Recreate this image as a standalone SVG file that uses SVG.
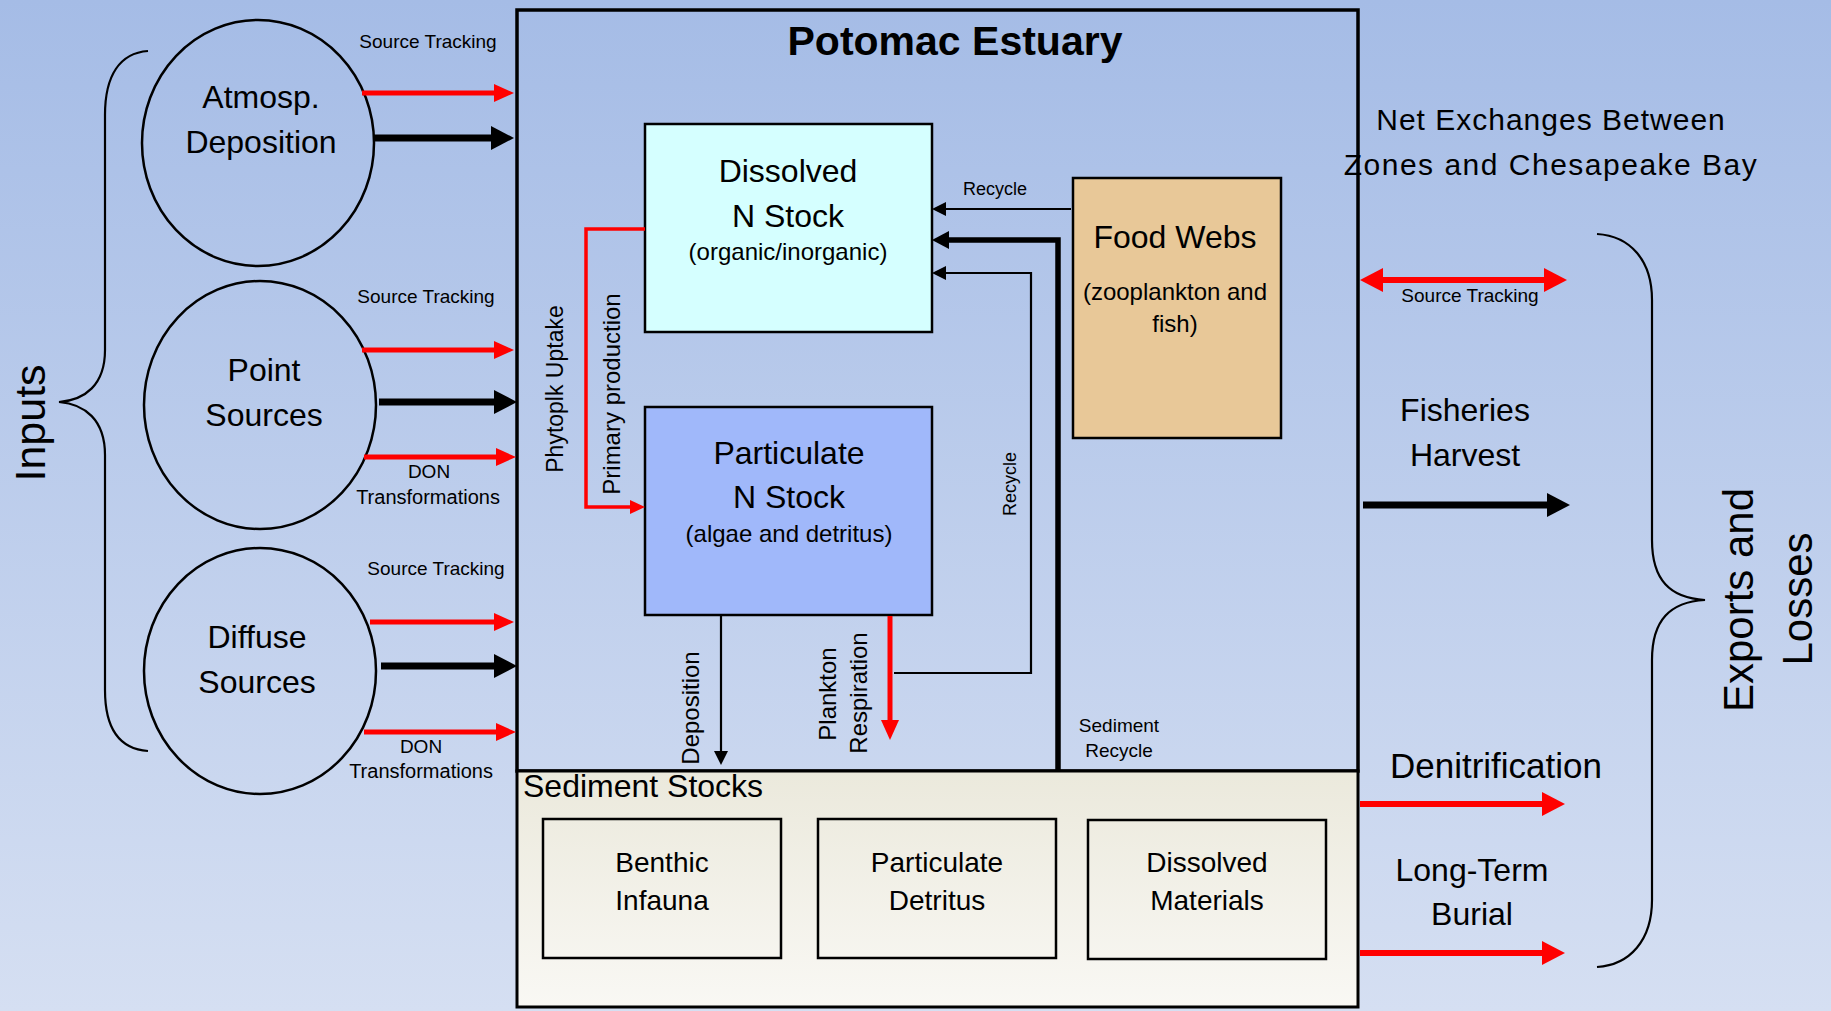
<svg xmlns="http://www.w3.org/2000/svg" width="1831" height="1011" viewBox="0 0 1831 1011">
<defs>
<linearGradient id="bg" x1="0" y1="0" x2="0" y2="1">
<stop offset="0" stop-color="#a5bce6"/>
<stop offset="1" stop-color="#d5dff2"/>
</linearGradient>
<linearGradient id="sed" x1="0" y1="0" x2="0" y2="1">
<stop offset="0" stop-color="#ebe9dc"/>
<stop offset="1" stop-color="#f9f8f4"/>
</linearGradient>
<marker id="hR" viewBox="0 0 20 18" markerWidth="20" markerHeight="18" refX="1" refY="9" orient="auto" markerUnits="userSpaceOnUse"><path d="M0,0 L20,9 L0,18 z" fill="#ff0000"/></marker>
<marker id="hR2" viewBox="0 0 23 24" markerWidth="23" markerHeight="24" refX="1" refY="12" orient="auto-start-reverse" markerUnits="userSpaceOnUse"><path d="M0,0 L23,12 L0,24 z" fill="#ff0000"/></marker>
<marker id="hRs" viewBox="0 0 15 14" markerWidth="15" markerHeight="14" refX="1" refY="7" orient="auto" markerUnits="userSpaceOnUse"><path d="M0,0 L15,7 L0,14 z" fill="#ff0000"/></marker>
<marker id="hK" viewBox="0 0 23 24" markerWidth="23" markerHeight="24" refX="1" refY="12" orient="auto" markerUnits="userSpaceOnUse"><path d="M0,0 L23,12 L0,24 z" fill="#000"/></marker>
<marker id="hKs" viewBox="0 0 14 14" markerWidth="14" markerHeight="14" refX="1" refY="7" orient="auto" markerUnits="userSpaceOnUse"><path d="M0,0 L14,7 L0,14 z" fill="#000"/></marker>
<marker id="hKt" viewBox="0 0 17 18" markerWidth="17" markerHeight="18" refX="1" refY="9" orient="auto" markerUnits="userSpaceOnUse"><path d="M0,0 L17,9 L0,18 z" fill="#000"/></marker>
</defs>
<style>
text{font-family:"Liberation Sans",Arial,sans-serif;fill:#000}
.big{font-size:32px;text-anchor:middle}
.mid{font-size:24px;text-anchor:middle}
.sm{font-size:19px;text-anchor:middle}
.xs{font-size:18px;text-anchor:middle}
.node{stroke:#000;stroke-width:2.5}
.red{stroke:#ff0000;fill:none}
.blk{stroke:#000;fill:none}
.brace{stroke:#000;stroke-width:2.2;fill:none}
</style>
<rect x="0" y="0" width="1831" height="1011" fill="url(#bg)"/>

<g id="inputs-brace">
<path class="brace" d="M148,51 C120,53 105,75 105,115 L105,350 C105,385 85,400 59,402 C85,404 105,420 105,455 L105,690 C105,730 120,749 148,751"/>
<text transform="translate(45,423) rotate(-90)" style="font-size:43px;text-anchor:middle">Inputs</text>
</g>

<g id="estuary">
<rect x="517" y="10" width="841" height="761" fill="none" stroke="#000" stroke-width="3.5"/>
<text x="955" y="55" style="font-size:41px;font-weight:bold;text-anchor:middle">Potomac Estuary</text>
</g>

<g id="atmosp">
<ellipse cx="258" cy="143" rx="116" ry="123" fill="none" class="node"/>
<text class="big" x="261" y="108">Atmosp.</text>
<text class="big" x="261" y="153">Deposition</text>
</g>
<g id="point">
<ellipse cx="260" cy="405" rx="116" ry="124" fill="none" class="node"/>
<text class="big" x="264" y="381">Point</text>
<text class="big" x="264" y="426">Sources</text>
</g>
<g id="diffuse">
<ellipse cx="260" cy="671" rx="116" ry="123" fill="none" class="node"/>
<text class="big" x="257" y="648">Diffuse</text>
<text class="big" x="257" y="693">Sources</text>
</g>

<g id="dissolved">
<rect x="645" y="124" width="287" height="208" fill="#d5ffff" class="node"/>
<text class="big" x="788" y="182">Dissolved</text>
<text class="big" x="788" y="227">N Stock</text>
<text class="mid" x="788" y="260">(organic/inorganic)</text>
</g>
<g id="particulate">
<rect x="645" y="407" width="287" height="208" fill="#a0b8fa" class="node"/>
<text class="big" x="789" y="464">Particulate</text>
<text class="big" x="789" y="508">N Stock</text>
<text class="mid" x="789" y="542">(algae and detritus)</text>
</g>
<g id="foodwebs">
<rect x="1073" y="178" width="208" height="260" fill="#e8c898" class="node"/>
<text class="big" x="1175" y="248">Food Webs</text>
<text class="mid" x="1175" y="300">(zooplankton and</text>
<text class="mid" x="1175" y="332">fish)</text>
</g>

<g id="sediment">
<rect x="517" y="771" width="841" height="236" fill="url(#sed)" stroke="#000" stroke-width="3"/>
<text x="523" y="797" style="font-size:32px">Sediment Stocks</text>
</g>
<g id="benthic">
<rect x="543" y="819" width="238" height="139" fill="none" class="node"/>
<text class="big" x="662" y="872" style="font-size:28px">Benthic</text>
<text class="big" x="662" y="910" style="font-size:28px">Infauna</text>
</g>
<g id="detritus">
<rect x="818" y="819" width="238" height="139" fill="none" class="node"/>
<text class="big" x="937" y="872" style="font-size:28px">Particulate</text>
<text class="big" x="937" y="910" style="font-size:28px">Detritus</text>
</g>
<g id="materials">
<rect x="1088" y="820" width="238" height="139" fill="none" class="node"/>
<text class="big" x="1207" y="872" style="font-size:28px">Dissolved</text>
<text class="big" x="1207" y="910" style="font-size:28px">Materials</text>
</g>

<g id="exports-brace">
<path class="brace" d="M1597,234 C1630,236 1652,260 1652,300 L1652,540 C1652,580 1670,598 1705,600 C1670,602 1652,620 1652,660 L1652,900 C1652,940 1630,965 1597,967"/>
<text transform="translate(1753,600) rotate(-90)" style="font-size:42px;text-anchor:middle">Exports and</text>
<text transform="translate(1812,599) rotate(-90)" style="font-size:42px;text-anchor:middle">Losses</text>
</g>

<g id="connectors">
<line class="red" x1="362" y1="93" x2="495" y2="93" stroke-width="5" marker-end="url(#hR)"/>
<line class="blk" x1="373" y1="138" x2="492" y2="138" stroke-width="7" marker-end="url(#hK)"/>
<line class="red" x1="362" y1="350" x2="495" y2="350" stroke-width="5" marker-end="url(#hR)"/>
<line class="blk" x1="379" y1="402" x2="495" y2="402" stroke-width="7" marker-end="url(#hK)"/>
<line class="red" x1="364" y1="457" x2="497" y2="457" stroke-width="5" marker-end="url(#hR)"/>
<line class="red" x1="370" y1="622" x2="495" y2="622" stroke-width="5" marker-end="url(#hR)"/>
<line class="blk" x1="381" y1="666" x2="495" y2="666" stroke-width="7" marker-end="url(#hK)"/>
<line class="red" x1="364" y1="732" x2="497" y2="732" stroke-width="5" marker-end="url(#hR)"/>

<path class="red" d="M645,229 L586,229 L586,507 L631,507" stroke-width="3.5" marker-end="url(#hRs)"/>
<path class="blk" d="M1071,209 L945,209" stroke-width="2.2" marker-end="url(#hKs)"/>
<path class="blk" d="M1058,771 L1058,240 L948,240" stroke-width="5.5" marker-end="url(#hKt)"/>
<path class="blk" d="M894,673 L1031,673 L1031,273 L945,273" stroke-width="2.2" marker-end="url(#hKs)"/>
<path class="blk" d="M721,616 L721,752" stroke-width="2.2" marker-end="url(#hKs)"/>
<path class="red" d="M890,616 L890,721" stroke-width="5" marker-end="url(#hR)"/>

<line class="red" x1="1382" y1="280" x2="1545" y2="280" stroke-width="6" marker-start="url(#hR2)" marker-end="url(#hR2)"/>
<line class="blk" x1="1363" y1="505" x2="1548" y2="505" stroke-width="7" marker-end="url(#hK)"/>
<line class="red" x1="1360" y1="804" x2="1543" y2="804" stroke-width="6" marker-end="url(#hR2)"/>
<line class="red" x1="1360" y1="953" x2="1543" y2="953" stroke-width="6" marker-end="url(#hR2)"/>

<text class="sm" x="428" y="48">Source Tracking</text>
<text class="sm" x="426" y="303">Source Tracking</text>
<text class="sm" x="429" y="478">DON</text>
<text class="sm" x="428" y="504" style="font-size:20px">Transformations</text>
<text class="sm" x="436" y="575">Source Tracking</text>
<text class="sm" x="421" y="753">DON</text>
<text class="sm" x="421" y="778" style="font-size:20px">Transformations</text>

<text transform="translate(563,389) rotate(-90)" style="font-size:23px;text-anchor:middle">Phytoplk Uptake</text>
<text transform="translate(620,394) rotate(-90)" style="font-size:24px;text-anchor:middle">Primary production</text>
<text class="xs" x="995" y="195">Recycle</text>
<text transform="translate(1016,484) rotate(-90)" style="font-size:18px;text-anchor:middle">Recycle</text>
<text transform="translate(699,708) rotate(-90)" style="font-size:24px;text-anchor:middle">Deposition</text>
<text transform="translate(836,694) rotate(-90)" style="font-size:24px;text-anchor:middle">Plankton</text>
<text transform="translate(867,693) rotate(-90)" style="font-size:24px;text-anchor:middle">Respiration</text>
<text class="sm" x="1119" y="732">Sediment</text>
<text class="sm" x="1119" y="757">Recycle</text>

<text x="1551" y="130" style="font-size:30px;letter-spacing:1px;text-anchor:middle">Net Exchanges Between</text>
<text x="1551" y="175" style="font-size:30px;letter-spacing:1.5px;text-anchor:middle">Zones and Chesapeake Bay</text>
<text class="sm" x="1470" y="302">Source Tracking</text>
<text class="big" x="1465" y="421">Fisheries</text>
<text class="big" x="1465" y="466">Harvest</text>
<text class="big" x="1496" y="778" style="font-size:35px">Denitrification</text>
<text class="big" x="1472" y="881">Long-Term</text>
<text class="big" x="1472" y="925">Burial</text>
</g>
</svg>
